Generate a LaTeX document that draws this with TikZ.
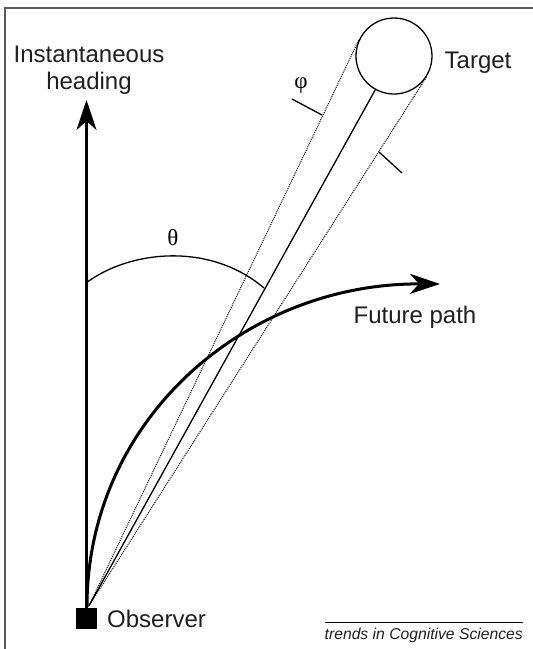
\documentclass[tikz,border=0pt]{standalone}
\usepackage{fontspec}
\setmainfont{Liberation Sans}
\newfontfamily\grk{Liberation Serif}
\usetikzlibrary{arrows.meta,calc}
\begin{document}
\begin{tikzpicture}[x=1pt,y=-1pt,
  lbl/.style={font=\fontsize{24}{27}\selectfont, inner sep=0pt, text=black!88},
  grl/.style={font=\grk\fontsize{23}{26}\selectfont, inner sep=0pt},
  dotline/.style={line width=1pt, dash pattern=on 1pt off 1pt},
  thinline/.style={line width=1.3pt},
  bigtip/.style={-{Stealth[length=30pt,width=20pt,inset=9pt]}}
]
\useasboundingbox (0,0) rectangle (533,649);
\draw[black!65, line width=1.3pt] (5,649) -- (5,8) -- (533,8);

% nodes
\node[fill=black, minimum size=21pt, inner sep=0pt] (obs) at (86.5,618.5) {};
\coordinate (O) at ($(obs.north)+(2.5,-2)$);
\coordinate (P) at ($(obs.north)+(0.5,-1)$);
\node[circle, draw, line width=1.3pt, minimum size=76pt, inner sep=0pt] (target) at (394,56) {};
\coordinate (htip) at (86.5,100);
\coordinate (fptip) at (440,284);

% heading arrow
\draw[line width=2.6pt, bigtip] (obs.north) -- (htip);

% sight lines
\draw[thinline] (O) -- (target);
\draw[dotline] (O) -- (tangent cs:node=target,point={(O)},solution=1);
\draw[dotline] (O) -- (tangent cs:node=target,point={(O)},solution=2);

% phi ticks
\draw[thinline] (292,99) -- (322,115);
\draw[thinline] (379,152) -- (402,173);

% theta arc
\draw[thinline] (86,283) .. controls (130,250) and (210,242) .. (264,288);

% future path
\draw[line width=3pt, bigtip] (P) .. controls (87,420) and (245,283) .. (fptip);

% labels
\node[grl] (theta) at (173,238) {θ};
\node[grl] (phi) at (301,86) {φ};
\node[lbl, align=center] (heading) at (89,70) {Instantaneous\\heading};
\node[lbl, anchor=base] (tgt) at (478,68) {Target};
\node[lbl, anchor=base] (fp) at (415,323) {Future path};
\node[lbl, anchor=base west] (obsl) at (107,627) {Observer};
\node[font=\itshape\fontsize{15.7}{18}\selectfont, anchor=base east, inner sep=0pt, text=black!88] (src) at (523,639) {trends in Cognitive Sciences};
\draw[line width=0.9pt] ($(src.north west)+(0,-5)$) -- ($(src.north east)+(0,-5)$);
\end{tikzpicture}
\end{document}
